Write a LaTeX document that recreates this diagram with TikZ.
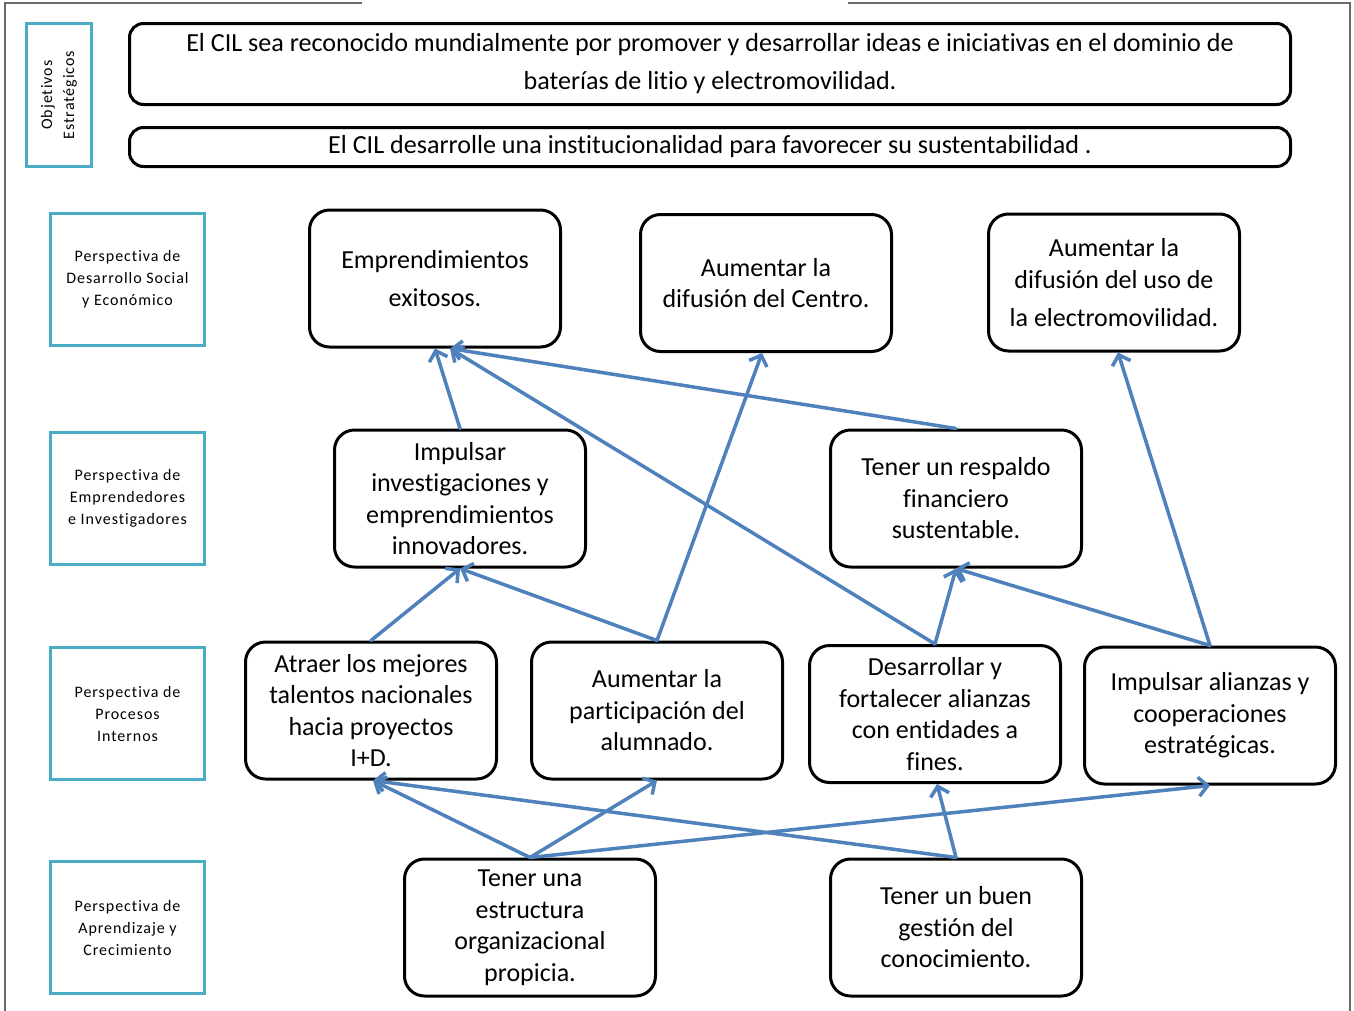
\documentclass[tikz,border=0pt]{standalone}
\usepackage{fontspec}
\setmainfont[Ligatures=NoCommon]{Carlito}
\newfontfamily\labelfont[LetterSpace=6,Ligatures=NoCommon]{Carlito}
\usetikzlibrary{arrows.meta}
\definecolor{framegray}{HTML}{6A6A6A}
\definecolor{persp}{HTML}{4BACC6}
\definecolor{link}{HTML}{4F81BD}
\begin{document}
\begin{tikzpicture}[x=1pt,y=-1pt,
  goal/.style={draw=black, line width=3pt, rounded corners=20pt,
    minimum width=251pt, minimum height=137pt, inner sep=0pt,
    align=center, font=\fontsize{26}{31.5}\selectfont},
  topgoal/.style={draw=black, line width=3pt, rounded corners=14pt,
    minimum width=1161pt, inner sep=0pt,
    align=center, font=\fontsize{26.1}{31.5}\selectfont},
  perspbox/.style={draw=persp, line width=3.5pt, minimum width=154pt,
    minimum height=132pt, inner sep=0pt, align=center,
    font=\labelfont\fontsize{16}{22}\selectfont},
  link/.style={draw=link, line width=3.5pt, line cap=round,
    -{Straight Barb[length=9pt,width=19pt,line width=3.5pt]}}
]
\useasboundingbox (0,0) rectangle (1354,1010);
\fill[white] (0,0) rectangle (1354,1010);

% page frame
\draw[framegray, line width=1.3pt] (5,1012) -- (5,3) -- (362,3);
\draw[framegray, line width=1.3pt] (848,3) -- (1350,3) -- (1350,1012);

% strategic objectives
\node[perspbox, minimum width=65pt, minimum height=143pt] (obj) at (59,95)
  {};
\node[rotate=90, align=center, font=\labelfont\fontsize{16}{22}\selectfont]
  (objtxt) at (obj.center) {Objetivos\\Estratégicos};
\node[topgoal, minimum height=81pt] (og1) at (710,64)
  {El CIL sea reconocido mundialmente por promover y desarrollar ideas e iniciativas en el dominio de\\[6.5pt]baterías de litio y electromovilidad.};
\node[topgoal, minimum height=39pt] (og2) at (710,147)
  {El CIL desarrolle una institucionalidad para favorecer su sustentabilidad .};

% perspectives
\node[perspbox] (p1) at (127.5,279.5) {Perspectiva de\\Desarrollo Social\\y Económico};
\node[perspbox] (p2) at (127.5,498.5) {Perspectiva de\\Emprendedores\\e Investigadores};
\node[perspbox] (p3) at (127.5,713.5) {Perspectiva de\\Procesos\\Internos};
\node[perspbox] (p4) at (127.5,927.5) {Perspectiva de\\Aprendizaje y\\Crecimiento};

% social and economic development
\node[goal] (emp) at (435,278.5) {Emprendimientos\\[6.5pt]exitosos.};
\node[goal] (cen) at (766,283) {Aumentar la\\difusión del Centro.};
\node[goal] (ele) at (1114,282.5) {Aumentar la\\difusión del uso de\\[6.5pt]la electromovilidad.};

% entrepreneurs and researchers
\node[goal] (imp) at (460,498.5) {Impulsar\\investigaciones y\\emprendimientos\\innovadores.};
\node[goal] (res) at (956,498.5) {Tener un respaldo\\financiero\\sustentable.};

% internal processes
\node[goal] (atr) at (371,710.5) {Atraer los mejores\\talentos nacionales\\hacia proyectos\\I+D.};
\node[goal] (par) at (657,710.5) {Aumentar la\\participación del\\alumnado.};
\node[goal] (des) at (935,714) {Desarrollar y\\fortalecer alianzas\\con entidades a\\fines.};
\node[goal] (ali) at (1210,715.5) {Impulsar alianzas y\\cooperaciones\\estratégicas.};

% learning and growth
\node[goal] (est) at (530,927.5) {Tener una\\estructura\\organizacional\\propicia.};
\node[goal] (ges) at (956,927.5) {Tener un buen\\gestión del\\conocimiento.};

% cause-effect links
\draw[link] (imp.north) -- (emp.south);
\draw[link] (res.north) -- ([xshift=15pt]emp.south);
\draw[link] (des.north) -- ([xshift=15pt]emp.south);
\draw[link] (par.north) -- ([xshift=-4pt]cen.south);
\draw[link] (par.north) -- (imp.south);
\draw[link] (atr.north) -- (imp.south);
\draw[link] (des.north) -- (res.south);
\draw[link] (ali.north) -- (res.south);
\draw[link] (ali.north) -- ([xshift=4pt]ele.south);
\draw[link] (est.north) -- ([xshift=2pt]atr.south);
\draw[link] (est.north) -- (par.south);
\draw[link] (est.north) -- (ali.south);
\draw[link] (ges.north) -- ([xshift=2pt]atr.south);
\draw[link] (ges.north) -- ([xshift=2pt]des.south);
\end{tikzpicture}
\end{document}
